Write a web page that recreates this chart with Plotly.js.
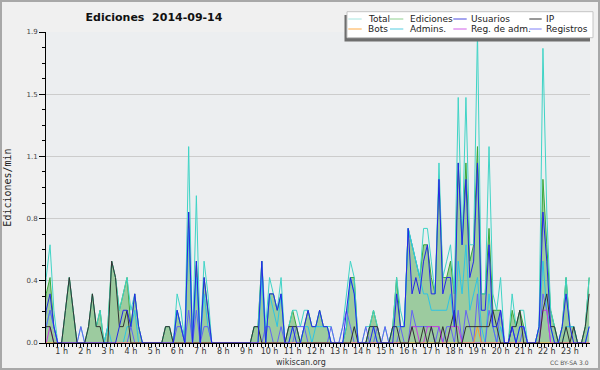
<!DOCTYPE html>
<html>
<head>
<meta charset="utf-8">
<script src="https://cdn.plot.ly/plotly-3.0.1.min.js"></script>
<style>
html,body{margin:0;padding:0;background:#f0f0f0;}
#chart{width:600px;height:370px;}
</style>
</head>
<body>
<div id="chart"></div>
<script>
// ---- data: edits per minute, one value per 10-minute slot (144 slots, 0:00 .. 23:50) ----
const slotMinutes = 10;
const total = [
0,0.1,0.4,0.6,0.2,0,  0,0.2,0.4,0.2,0,0.1,  0,0.1,0.3,0.1,0.2,0,  0.1,0.5,0.4,0.2,0.3,0.4,
0.2,0.3,0.1,0,0,0,  0,0,0,0.1,0.1,0,  0.3,0.2,0,1.2,0,0.9,  0,0.5,0.3,0,0,0,
0,0,0,0,0,0,  0,0,0.1,0.1,0.5,0.1,  0.4,0.3,0.2,0.4,0,0.1,  0.2,0.2,0.1,0.2,0.2,0.1,
0.1,0.2,0.1,0.1,0.1,0,  0,0.1,0.3,0.5,0.4,0,  0,0.1,0.1,0.2,0.1,0,  0.1,0,0.1,0.4,0.2,0.1,
0.7,0.6,0.5,0.4,0.7,0.7,  0.5,0.3,1.1,0.4,0.5,0.6,  0.3,1.5,0.6,1.5,0.6,0.6,  1.9,0.3,0.3,1.2,0.3,0.2,
0.4,0,0,0.3,0.1,0.2,  0.2,0,0,0,0.1,1.8,  0.8,0.2,0.1,0,0.1,0.4,  0.1,0.1,0,0,0.1,0.4
];
const ediciones = [
0,0.1,0.3,0.4,0.1,0,  0,0.2,0.4,0.2,0,0,  0,0.1,0.3,0.1,0.2,0,  0.1,0.5,0.4,0.2,0.3,0.4,
0.1,0.3,0.1,0,0,0,  0,0,0,0.1,0.1,0,  0.2,0.1,0,0.8,0,0.5,  0,0.4,0.2,0,0,0,
0,0,0,0,0,0,  0,0,0.1,0.1,0.5,0,  0.3,0.3,0.2,0.3,0,0.1,  0.2,0.1,0,0.1,0.2,0.1,
0.1,0.2,0.1,0.1,0,0,  0,0,0.1,0.4,0.4,0,  0,0,0.1,0.2,0.1,0,  0,0,0.1,0.4,0.1,0.1,
0.7,0.6,0.5,0.4,0.6,0.6,  0.4,0.3,1.0,0.4,0.4,0.5,  0.3,1.1,0.6,1.1,0.5,0.6,  1.2,0.3,0.3,0.7,0.2,0.2,
0.2,0,0,0.2,0.1,0.2,  0.1,0,0,0,0.1,1.0,  0.6,0.2,0.1,0,0.1,0.4,  0.1,0.1,0,0,0.1,0.4
];
const usuarios = [
0,0,0.2,0.3,0.1,0,  0,0,0,0,0,0,  0,0,0,0,0,0,  0,0,0,0.1,0.2,0.2,
0.1,0.3,0.1,0,0,0,  0,0,0,0,0,0,  0.2,0.1,0,0.8,0,0.5,  0,0.4,0.2,0,0,0,
0,0,0,0,0,0,  0,0,0,0,0.5,0,  0.3,0.3,0.2,0.3,0,0,  0.1,0,0,0.1,0.2,0.1,
0.1,0.2,0.1,0.1,0,0,  0,0,0.2,0.4,0.3,0,  0,0,0,0.1,0,0,  0,0,0,0.3,0.1,0.1,
0.7,0.3,0.4,0.3,0.5,0.6,  0.3,0.3,1.0,0.3,0.4,0.4,  0.1,1.1,0.6,1.0,0.4,0.5,  1.1,0.2,0.2,0.6,0.1,0.1,
0.2,0,0,0.1,0,0.1,  0.1,0,0,0,0.1,0.8,  0.5,0.1,0,0,0.1,0.3,  0.1,0,0,0,0,0.1
];
const ip = [
0,0.1,0.1,0.1,0,0,  0,0.2,0.4,0.2,0,0,  0,0.1,0.3,0.1,0.1,0,  0,0.5,0.4,0.1,0.1,0.2,
0,0,0,0,0,0,  0,0,0,0.1,0.1,0,  0,0,0,0,0,0,  0,0,0,0,0,0,
0,0,0,0,0,0,  0,0,0.1,0.1,0,0,  0,0,0,0,0,0.1,  0.1,0.1,0,0,0,0,
0,0,0,0,0,0,  0,0,0,0,0.1,0,  0,0,0.1,0.1,0.1,0,  0,0,0.1,0.1,0,0,
0,0.1,0,0,0.1,0,  0.1,0,0,0.1,0,0.1,  0.2,0,0,0.1,0.1,0.1,  0.1,0.1,0.1,0.1,0.2,0.1,
0,0,0,0.1,0.1,0.2,  0,0,0,0,0,0.2,  0.3,0.1,0.1,0,0,0.1,  0,0.1,0,0,0.1,0.3
];
const bots = [
0,0,0,0,0,0,  0,0,0,0,0,0,  0,0,0,0,0,0,  0,0,0,0,0,0,
0,0,0,0,0,0,  0,0,0,0,0,0,  0,0,0,0,0,0,  0,0,0,0,0,0,
0,0,0,0,0,0,  0,0,0,0,0,0,  0,0,0,0,0,0,  0,0,0,0,0,0,
0,0,0,0,0,0,  0,0,0,0,0,0,  0,0,0,0,0,0,  0,0,0,0,0,0,
0,0,0,0,0,0,  0,0,0,0,0,0,  0,0,0,0,0,0,  0.1,0,0,0,0,0,
0,0,0,0,0,0,  0,0,0,0,0,0,  0,0,0,0,0,0,  0,0,0,0,0,0
];
const admins = [
0,0,0.1,0.2,0.1,0,  0,0,0,0,0,0,  0,0,0,0,0,0,  0.1,0,0,0,0,0.1,
0.1,0.2,0,0,0,0,  0,0,0,0,0,0,  0.2,0.1,0,0.7,0,0.4,  0,0.3,0.1,0,0,0,
0,0,0,0,0,0,  0,0,0,0,0.4,0,  0.3,0.2,0.1,0.3,0,0,  0.1,0.1,0,0.1,0.1,0,
0.1,0.1,0.1,0.1,0,0,  0,0,0.1,0.4,0.3,0,  0,0,0.1,0.1,0,0,  0,0,0.1,0.1,0.1,0.1,
0.7,0.6,0.5,0.4,0.3,0.3,  0.2,0.2,0.2,0.2,0.2,0.3,  0.1,0.5,0.3,0.6,0.2,0.3,  0.4,0.1,0,0.3,0.1,0,
0.1,0,0,0.1,0,0.1,  0.1,0,0,0,0.1,0.5,  0.2,0.1,0,0,0,0.1,  0.1,0.1,0,0,0,0.1
];
const regAdm = [
0,0,0,0.1,0,0,  0,0,0,0,0,0,  0,0,0,0,0,0,  0,0,0,0,0,0,
0,0,0,0,0,0,  0,0,0,0,0,0,  0,0,0,0,0,0,  0,0,0,0,0,0,
0,0,0,0,0,0,  0,0,0,0,0,0,  0,0,0,0,0,0,  0,0,0,0,0,0,
0,0,0,0,0,0,  0,0,0,0,0,0,  0,0,0,0,0,0,  0,0,0,0,0,0,
0,0.1,0.1,0,0,0.1,  0.1,0.1,0.1,0,0,0.1,  0.1,0.1,0,0,0,0,  0,0,0,0,0,0,
0,0,0,0,0,0,  0,0,0,0,0,0.2,  0.2,0,0,0,0,0,  0,0,0,0,0,0
];
const registros = [
0,0,0.1,0.2,0.1,0,  0,0,0,0,0,0.1,  0,0,0,0,0,0,  0,0,0,0,0,0,
0.1,0,0,0,0,0,  0,0,0,0,0,0,  0.1,0.1,0,0.2,0,0.2,  0,0.1,0.1,0,0,0,
0,0,0,0,0,0,  0,0,0,0,0,0.1,  0.1,0,0,0.1,0,0,  0,0.1,0.1,0.1,0,0,
0,0,0,0,0.1,0,  0,0.1,0.2,0.1,0,0,  0,0.1,0,0,0.1,0,  0.1,0,0,0,0.1,0,
0,0.2,0.1,0.1,0.1,0.1,  0.1,0,0.1,0,0.1,0.1,  0,0.2,0,0.2,0.1,0,  0.3,0,0,0.2,0.1,0,
0.2,0,0,0.1,0,0,  0.1,0,0,0,0,0.3,  0.2,0,0,0,0,0,  0,0,0,0,0,0
];
const seriesNames = ['Total','Ediciones','Usuarios','IP','Bots','Admins.','Reg. de adm.','Registros'];
const hourTicks = [1,2,3,4,5,6,7,8,9,10,11,12,13,14,15,16,17,18,19,20,21,22,23];
const hourLabels = ['1 h','2 h','3 h','4 h','5 h','6 h','7 h','8 h','9 h','10 h','11 h','12 h','13 h','14 h','15 h','16 h','17 h','18 h','19 h','20 h','21 h','22 h','23 h'];
const yTickVals = [0,0.38,0.76,1.14,1.52,1.9];
const yTickText = ['0.0','0.4','0.8','1.1','1.5','1.9'];

// ---- styles ----
const colors = {
  'Total':'#3fd4c6','Ediciones':'#3aa83a','Usuarios':'#2626e8','IP':'#333333',
  'Bots':'#ff9a2e','Admins.':'#2ec4e4','Reg. de adm.':'#c83ce0','Registros':'#6464f4'
};
const legendColors = {
  'Total':'#a6e6e0','Ediciones':'#8fd08f','Usuarios':'#4a4ae0','IP':'#333333',
  'Bots':'#ffaa44','Admins.':'#55cde0','Reg. de adm.':'#d060e8','Registros':'#8080f8'
};

const hours = total.map((_, i) => i * slotMinutes / 60);

function line(name, y) {
  return {x: hours, y: y, type: 'scatter', mode: 'lines', name: name,
          line: {color: colors[name], width: 1}, hoverinfo: 'skip', showlegend: false};
}
const traces = [
  {x: hours, y: ediciones, type: 'scatter', mode: 'lines', name: 'Ediciones', fill: 'tozeroy',
   fillcolor: 'rgba(60,160,60,0.45)', line: {color: colors['Ediciones'], width: 1},
   hoverinfo: 'skip', showlegend: false},
  line('Total', total),
  line('Admins.', admins),
  line('Registros', registros),
  line('Reg. de adm.', regAdm),
  line('Bots', bots),
  line('IP', ip),
  line('Usuarios', usuarios)
];

// pixel helpers for decorations (plot area: x 46..590, y 32..343)
const PX = p => (p - 46) / 544;
const PY = p => (343 - p) / 311;

const shapes = [
  {type:'rect', xref:'paper', yref:'paper', x0:PX(1), x1:PX(599), y0:PY(369), y1:PY(1),
   line:{color:'#a8a8a8', width:2}, fillcolor:'rgba(0,0,0,0)', layer:'above'},
  {type:'rect', xref:'paper', yref:'paper', x0:PX(344.5), x1:PX(590), y0:PY(41.5), y1:PY(15),
   line:{width:0}, fillcolor:'#6e6e6e', layer:'above'},
  {type:'rect', xref:'paper', yref:'paper', x0:PX(347), x1:PX(593), y0:PY(37.7), y1:PY(11.7),
   line:{color:'#c4c4c4', width:1}, fillcolor:'#ffffff', layer:'above'}
];
const annotations = [
  {text:'wikiscan.org', xref:'paper', yref:'paper', x:PX(301), y:PY(362), xanchor:'center', yanchor:'middle',
   showarrow:false, font:{family:'DejaVu Sans', size:8, color:'#333'}},
  {text:'CC BY-SA 3.0', xref:'paper', yref:'paper', x:PX(591), y:PY(362), xanchor:'right', yanchor:'middle',
   showarrow:false, font:{family:'DejaVu Sans', size:6, color:'#555'}}
];
const legCols = [[348.3,361.7,366],[390,403.3,407.5],[453.3,466.7,468.5],[529.3,541.7,544]];
const legRows = [19, 29];
seriesNames.forEach((nm, k) => {
  const c = legCols[k % 4], ry = legRows[Math.floor(k / 4)];
  shapes.push({type:'line', xref:'paper', yref:'paper', x0:PX(c[0]), x1:PX(c[1]), y0:PY(ry), y1:PY(ry),
               line:{color:legendColors[nm], width:1}, layer:'above'});
  annotations.push({text:nm, xref:'paper', yref:'paper', x:PX(c[2]), y:PY(ry), xanchor:'left', yanchor:'middle',
                    showarrow:false, font:{family:'DejaVu Sans', size:9, color:'#222'}});
});

const layout = {
  width: 600, height: 370,
  margin: {l: 46, r: 10, t: 32, b: 27, pad: 0},
  paper_bgcolor: '#f0f0f0', plot_bgcolor: '#eceef0',
  title: {text: '<b>Ediciones\u00a0 2014-09-14</b>', xref: 'container', yref: 'container',
          x: 154/600, xanchor: 'center', y: 1 - 17/370, yanchor: 'middle',
          font: {family: 'DejaVu Sans', size: 11, color: '#111'}},
  xaxis: {
    range: [0.325, 23.87], tickmode: 'array', tickvals: hourTicks, ticktext: hourLabels,
    ticks: 'outside', ticklen: 0, showgrid: false, zeroline: false,
    showline: true, linecolor: '#000', linewidth: 1,
    tickfont: {family: 'DejaVu Sans', size: 8, color: '#333'},
    minor: {tickmode: 'linear', tick0: 0.325, dtick: 0.16355, ticks: 'outside', ticklen: 3,
            tickcolor: '#000', showgrid: false},
    fixedrange: true
  },
  yaxis: {
    range: [0, 1.9], tickmode: 'array', tickvals: yTickVals, ticktext: yTickText,
    ticks: 'outside', ticklen: 6, tickcolor: '#000', showgrid: true, gridcolor: '#cccccc', gridwidth: 1,
    zeroline: false, showline: true, linecolor: '#000', linewidth: 1,
    tickfont: {family: 'DejaVu Sans', size: 7, color: '#444'},
    minor: {tickmode: 'linear', tick0: 0, dtick: 0.095, ticks: 'outside', ticklen: 3, tickcolor: '#000', showgrid: false},
    title: {text: 'Ediciones/min', standoff: 12, font: {family: 'DejaVu Sans Mono', size: 10, color: '#222'}},
    fixedrange: true
  },
  shapes: shapes,
  annotations: annotations,
  showlegend: false
};

Plotly.newPlot('chart', traces, layout, {displayModeBar: false, staticPlot: true});
</script>
</body>
</html>
